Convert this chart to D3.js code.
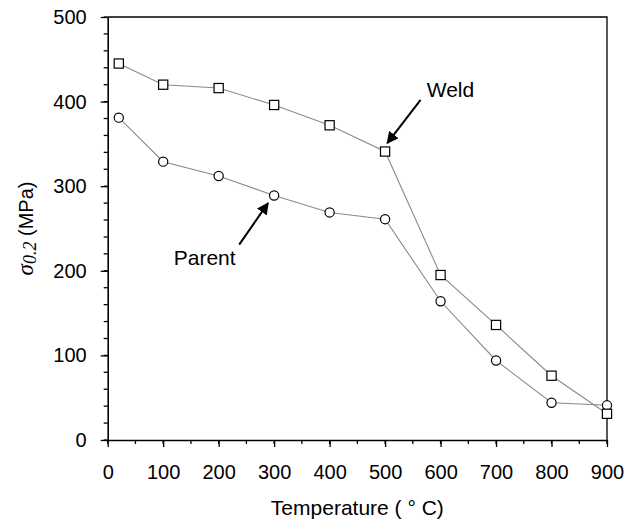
<!DOCTYPE html>
<html>
<head>
<meta charset="utf-8">
<script src="https://cdn.jsdelivr.net/npm/d3@7"></script>
<style>
  body { margin: 0; background: #fff; }
  text { font-family: Arial, "Liberation Sans", sans-serif; }
</style>
</head>
<body>
<div id="chart"></div>
<script>
// temperatures (deg C)
var temps = [20, 100, 200, 300, 400, 500, 600, 700, 800, 900];
// 0.2% proof stress (MPa)
var weld   = [445, 420, 416, 396, 372, 341, 195, 136, 76, 31];
var parent = [381, 329, 312, 289, 269, 261, 164, 94, 44, 41];

var xTicks = [0, 100, 200, 300, 400, 500, 600, 700, 800, 900];
var yTicks = [0, 100, 200, 300, 400, 500];

// annotations, in data units: [label, text x, text y, arrow tail x, tail y, tip x, tip y]
var notes = [
  ["Weld",   575, 406, 564, 402, 504, 351],
  ["Parent", 119, 207, 237, 231, 289, 280]
];

var width = 628, height = 529;

var svg = d3.select("#chart").append("svg")
            .attr("width", width)
            .attr("height", height);

var x = d3.scaleLinear().domain([0, 900]).range([107.7, 607]);
var y = d3.scaleLinear().domain([0, 500]).range([440, 17]);

svg.append("defs").append("marker")
   .attr("id", "arrow")
   .attr("viewBox", "0 0 10 10")
   .attr("refX", 9).attr("refY", 5)
   .attr("markerWidth", 6).attr("markerHeight", 6)
   .attr("orient", "auto")
   .append("path")
   .attr("d", "M0,0 L10,5 L0,10 z")
   .attr("fill", "#000");

// frame (top + right)
svg.append("path")
   .attr("d", "M" + x(0) + "," + y(500) + "H" + x(900) + "V" + y(0))
   .attr("fill", "none")
   .attr("stroke", "#000")
   .attr("stroke-width", 1.3);

// minor ticks
svg.append("g").selectAll("line")
   .data(d3.range(0, 901, 50))
   .enter().append("line")
   .attr("x1", function (d) { return x(d); })
   .attr("x2", function (d) { return x(d); })
   .attr("y1", y(0))
   .attr("y2", y(0) + 4)
   .attr("stroke", "#000").attr("stroke-width", 1.3);

svg.append("g").selectAll("line")
   .data(d3.range(0, 501, 20))
   .enter().append("line")
   .attr("x1", x(0) - 4)
   .attr("x2", x(0))
   .attr("y1", function (d) { return y(d); })
   .attr("y2", function (d) { return y(d); })
   .attr("stroke", "#000").attr("stroke-width", 1.3);

var xAxis = svg.append("g")
   .attr("transform", "translate(0," + y(0) + ")")
   .call(d3.axisBottom(x).tickValues(xTicks).tickSize(7).tickPadding(18).tickSizeOuter(0));

var yAxis = svg.append("g")
   .attr("transform", "translate(" + x(0) + ",0)")
   .call(d3.axisLeft(y).tickValues(yTicks).tickSize(7).tickPadding(14).tickSizeOuter(0));

[xAxis, yAxis].forEach(function (g) {
  g.select(".domain").attr("stroke", "#000").attr("stroke-width", 1.6);
  g.selectAll(".tick line").attr("stroke", "#000").attr("stroke-width", 1.3);
  g.selectAll(".tick text")
   .attr("font-family", "Arial, 'Liberation Sans', sans-serif")
   .attr("font-size", "20px")
   .attr("fill", "#000");
});

var line = d3.line()
   .x(function (d) { return x(d[0]); })
   .y(function (d) { return y(d[1]); });

var weldPts = temps.map(function (t, i) { return [t, weld[i]]; });
var parentPts = temps.map(function (t, i) { return [t, parent[i]]; });

svg.append("path").datum(parentPts)
   .attr("d", line).attr("fill", "none")
   .attr("stroke", "#8a8a8a").attr("stroke-width", 1.1);

svg.append("path").datum(weldPts)
   .attr("d", line).attr("fill", "none")
   .attr("stroke", "#8a8a8a").attr("stroke-width", 1.1);

svg.append("g").selectAll("circle")
   .data(parentPts)
   .enter().append("circle")
   .attr("cx", function (d) { return x(d[0]); })
   .attr("cy", function (d) { return y(d[1]); })
   .attr("r", 4.6)
   .attr("fill", "#fff")
   .attr("stroke", "#000")
   .attr("stroke-width", 1.2);

svg.append("g").selectAll("rect")
   .data(weldPts)
   .enter().append("rect")
   .attr("x", function (d) { return x(d[0]) - 4.6; })
   .attr("y", function (d) { return y(d[1]) - 4.6; })
   .attr("width", 9.2)
   .attr("height", 9.2)
   .attr("fill", "#fff")
   .attr("stroke", "#000")
   .attr("stroke-width", 1.2);

// annotations
notes.forEach(function (n) {
  svg.append("line")
     .attr("x1", x(n[3])).attr("y1", y(n[4]))
     .attr("x2", x(n[5])).attr("y2", y(n[6]))
     .attr("stroke", "#000")
     .attr("stroke-width", 2)
     .attr("marker-end", "url(#arrow)");

  svg.append("text")
     .attr("x", x(n[1]))
     .attr("y", y(n[2]))
     .attr("font-size", "21px")
     .attr("fill", "#000")
     .text(n[0]);
});

// axis titles
svg.append("text")
   .attr("x", (x(0) + x(900)) / 2)
   .attr("y", 515)
   .attr("text-anchor", "middle")
   .attr("font-size", "21px")
   .attr("fill", "#000")
   .text("Temperature ( \u00b0 C)");

var yTitle = svg.append("text")
   .attr("transform", "translate(33," + ((y(0) + y(500)) / 2) + ") rotate(-90)")
   .attr("text-anchor", "middle")
   .attr("font-size", "20px")
   .attr("fill", "#000");

yTitle.append("tspan")
   .attr("font-family", "'Liberation Serif', 'DejaVu Serif', serif")
   .attr("font-style", "italic")
   .attr("font-size", "23px")
   .text("\u03c3");

yTitle.append("tspan")
   .attr("font-family", "'Liberation Serif', 'DejaVu Serif', serif")
   .attr("font-style", "italic")
   .attr("font-size", "18px")
   .attr("dy", 3)
   .text("0.2");

yTitle.append("tspan")
   .attr("dy", -3)
   .text(" (MPa)");
</script>
</body>
</html>
